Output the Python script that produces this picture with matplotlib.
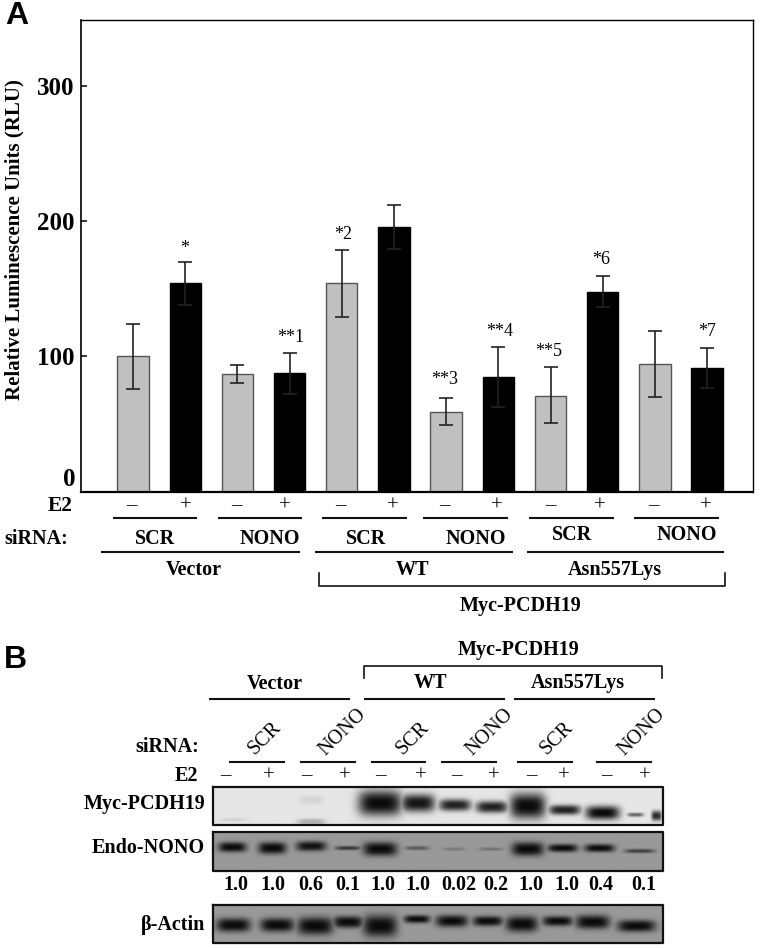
import matplotlib
matplotlib.use('Agg')
import matplotlib.pyplot as plt
import numpy as np

plt.rcParams['font.family'] = ['Liberation Serif', 'DejaVu Sans']
plt.rcParams['font.weight'] = 'bold'

# panel A values
values = [100, 154, 87, 87.4, 154, 195.6, 59, 84.7, 71, 148, 94.6, 91.6]
err_up = [24.2, 15.8, 7, 15.3, 25, 16.4, 10.4, 22.3, 20.9, 11.5, 24.2, 14.8]
err_down = [24, 15.8, 7, 15.3, 25, 16.4, 10, 22.3, 20.4, 11.5, 24.6, 14.8]
bar_colors = ['#c0c0c0', '#000000'] * 6
y_ticks = [100, 200, 300]

stars = [(185, 248, '*'), (343, 234, '*2'), (291, 338, '**1'), (445, 380, '**3'),
         (500, 331, '**4'), (549, 351, '**5'), (601, 259, '*6'), (707, 331, '*7')]
signs_a = ['–', '+'] * 6
signs_a_x = [131, 186, 236, 285, 340, 393, 444, 497, 550, 600, 653, 706]
sirna_a = [(155, 539, 'SCR'), (270, 539, 'NONO'), (366, 539, 'SCR'), (476, 539, 'NONO'),
           (572, 535, 'SCR'), (687, 535, 'NONO')]
lines_a = [(113, 197, 518), (218, 302, 518), (322, 407, 518), (423, 508, 518), (529, 614, 518),
           (634, 719, 518), (101, 300, 552), (315, 513, 552), (527, 724, 552)]

# panel B values
signs_b = ['–', '+'] * 6
signs_b_x = [225, 269, 306, 345, 380, 421, 456, 494, 531, 564, 606, 645]
ratios = ['1.0', '1.0', '0.6', '0.1', '1.0', '1.0', '0.02', '0.2', '1.0', '1.0', '0.4', '0.1']
ratios_x = [236, 273, 311, 348, 383, 418, 459, 496, 531, 567, 601, 644]
sirna_b = [(265, 738, 'SCR'), (343, 732, 'NONO'), (413, 738, 'SCR'), (490, 732, 'NONO'),
           (557, 738, 'SCR'), (642, 732, 'NONO')]
lines_b = [(229, 285, 762), (300, 356, 762), (371, 426, 762), (441, 497, 762), (517, 573, 762),
           (596, 652, 762), (209, 350, 699), (364, 505, 699), (514, 655, 699)]

# bands: centre x, half width, centre y, half height, darkness
bands_myc = [(233, 14, 820, 2, 0.08), (311, 14, 822, 3, 0.25), (311, 12, 800, 4, 0.08),
             (380, 22, 803, 13, 1.0), (418, 17, 803, 9, 0.95), (455, 16, 805, 6, 0.9),
             (492, 16, 807, 6, 0.9), (528, 18, 806, 13, 1.0), (565, 16, 810, 5, 0.9),
             (603, 17, 813, 7, 1.0), (636, 8, 815, 2, 0.6), (657, 5, 816, 5, 0.85)]
bands_nono = [(232, 14, 847, 5, 1.0), (272, 14, 848, 6, 1.0), (311, 15, 846, 5, 0.95),
              (348, 13, 848, 2, 0.7), (380, 17, 849, 7, 1.0), (417, 12, 848, 2, 0.45),
              (454, 11, 849, 1.5, 0.25), (491, 12, 849, 1.5, 0.3), (528, 16, 849, 7, 1.0),
              (563, 15, 848, 4, 1.0), (600, 15, 848, 4, 1.0), (640, 15, 851, 2, 0.65)]
bands_actin = [(233, 17, 925, 7, 1.0), (277, 17, 925, 7, 1.0), (315, 18, 926, 9, 1.0),
               (348, 15, 922, 6, 1.0), (380, 17, 926, 11, 1.0), (417, 13, 919, 4, 1.0),
               (452, 16, 921, 6, 1.0), (488, 15, 921, 5, 1.0), (522, 16, 924, 8, 1.0),
               (558, 15, 921, 5, 1.0), (593, 17, 922, 7, 1.0), (637, 19, 926, 6, 1.0)]


def blot(ax, top, bottom, bands, bg):
    xs = np.arange(213, 664)
    ys = np.arange(top, bottom + 1)
    xx, yy = np.meshgrid(xs, ys)
    dark = np.zeros(xx.shape)
    for cx, wx, cy, wy, d in bands:
        blob = d * np.exp(-np.abs((xx - cx) / wx) ** 4 - np.abs((yy - cy) / wy) ** 2.5)
        dark = np.maximum(dark, blob)
    img = bg * (1 - dark) + 0.04 * dark
    ax.imshow(img, cmap='gray', vmin=0, vmax=1, aspect='auto', zorder=1,
              extent=(213, 663, bottom, top), interpolation='bilinear')
    ax.plot([213, 663, 663, 213, 213], [top, top, bottom, bottom, top], color='#111111', lw=1.6, zorder=2)


fig = plt.figure(figsize=(7.6, 9.48), dpi=100)

# main bar chart, placed in pixel terms
ax = fig.add_axes([81 / 760, 1 - 491.5 / 948, (753 - 81) / 760, (491.5 - 20) / 948])
x = np.arange(12)
ax.bar(x, values, width=0.6, color=bar_colors, edgecolor=['#555555', '#000000'] * 6, linewidth=1)
ax.errorbar(x, values, yerr=[err_down, err_up], fmt='none', ecolor='#222222', elinewidth=1.2,
            capsize=5, capthick=1.2)
ax.set_xlim(-0.996, 11.88)
ax.set_ylim(0, 349)
ax.set_xticks([])
ax.set_yticks(y_ticks)
ax.tick_params(axis='y', direction='in', length=4, width=1.1, labelsize=18, pad=5)
for s in ax.spines.values():
    s.set_linewidth(1.0)
ax.spines['bottom'].set_linewidth(1.6)
ax.spines['left'].set_linewidth(1.2)

# everything else sits on a full figure overlay in image pixels
ov = fig.add_axes([0, 0, 1, 1], facecolor='none')
ov.set_axis_off()

blot(ov, 787, 825, bands_myc, 0.90)
blot(ov, 832, 871, bands_nono, 0.60)
blot(ov, 905, 943, bands_actin, 0.60)
ov.set_xlim(0, 760)
ov.set_ylim(948, 0)


def label(px, py, s, size=14.5, ha='center', **kw):
    ov.text(px, py, s, fontsize=size, ha=ha, va='center', zorder=5, **kw)


def hline(x0, x1, y, lw=1.5):
    ov.plot([x0, x1], [y, y], color='#111111', lw=lw, zorder=3, solid_capstyle='butt')


label(5, 16, 'A', size=23, ha='left', family='Liberation Sans')
label(4, 660, 'B', size=23, ha='left', family='Liberation Sans')
label(14, 240, 'Relative Luminescence Units (RLU)', size=15, rotation=90)
label(76, 479, '0', size=18, ha='right')

for px, py, s in stars:
    label(px, py, s, size=13, fontweight='normal')

label(73, 506, 'E2', size=15.5, ha='right')
label(4, 539, 'siRNA:', ha='left')
for px, s in zip(signs_a_x, signs_a):
    label(px, 506, s, size=15, fontweight='normal')
for px, py, s in sirna_a:
    label(px, py, s)
for x0, x1, y in lines_a:
    hline(x0, x1, y)
label(194, 570, 'Vector')
label(412, 570, 'WT')
label(615, 570, 'Asn557Lys')
ov.plot([319, 319, 725, 725], [573, 586, 586, 573], color='#111111', lw=1.2, zorder=3)
label(521, 606, 'Myc-PCDH19')

label(275, 684, 'Vector')
label(430, 683, 'WT')
label(578, 683, 'Asn557Lys')
label(519, 650, 'Myc-PCDH19')
ov.plot([364, 364, 662, 662], [678, 666, 666, 678], color='#111111', lw=1.2, zorder=3)
for x0, x1, y in lines_b:
    hline(x0, x1, y)
for px, py, s in sirna_b:
    label(px, py, s, rotation=45, rotation_mode='anchor', fontweight='normal')
label(199, 747, 'siRNA:', ha='right')
label(198, 776, 'E2', ha='right')
for px, s in zip(signs_b_x, signs_b):
    label(px, 776, s, size=15, fontweight='normal')
label(205, 804, 'Myc-PCDH19', ha='right')
label(205, 848, 'Endo-NONO', ha='right')
label(205, 925, 'β-Actin', ha='right')
for px, s in zip(ratios_x, ratios):
    label(px, 885, s)

fig.savefig('out.png', dpi=100)
